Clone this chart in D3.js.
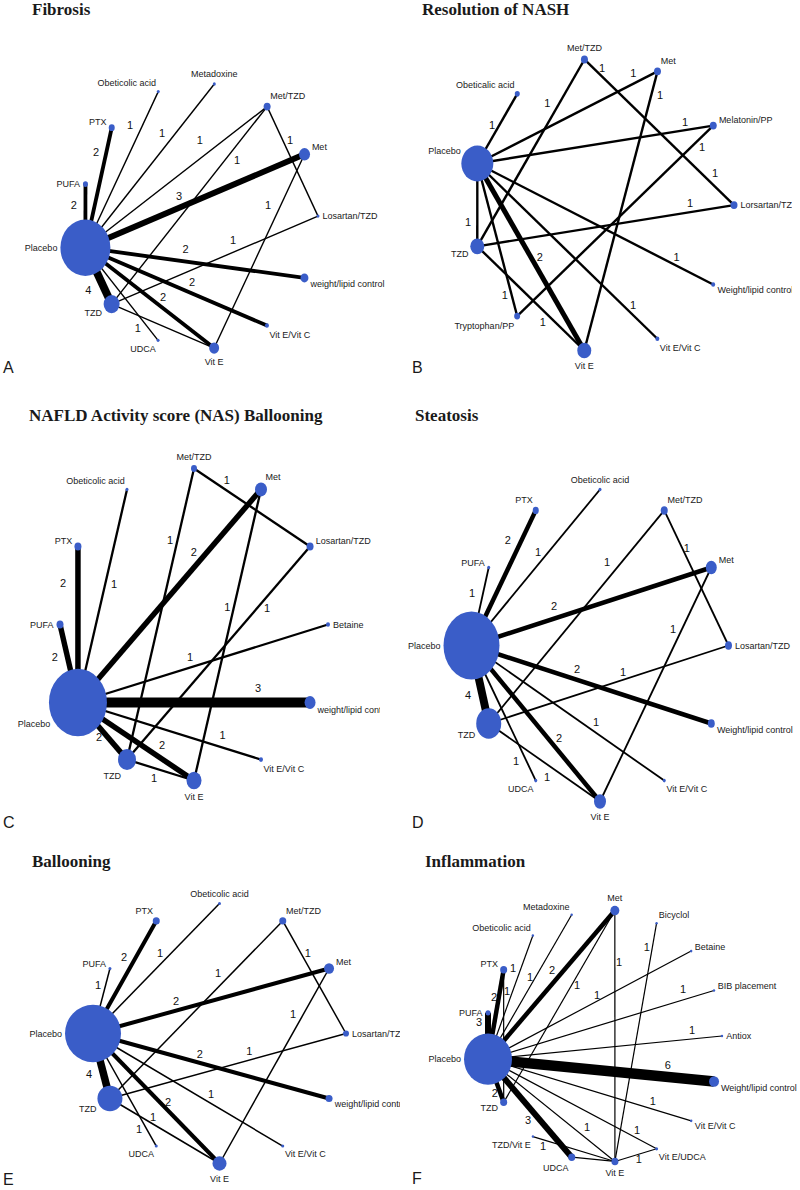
<!DOCTYPE html>
<html><head><meta charset="utf-8">
<script src="https://cdn.jsdelivr.net/npm/d3@7"></script>
<style>body{margin:0;background:#fff}svg{display:block}</style>
</head><body>
<svg id="chart" width="800" height="1190"></svg>
<script>
// ---------- A: Fibrosis ----------
const fibrosisNodes = ["Placebo","PUFA","PTX","Obeticolic acid","Metadoxine","Met/TZD","Met","Losartan/TZD","weight/lipid control","Vit E/Vit C","Vit E","UDCA","TZD"];
const fibrosisNodeSize = [25,2.5,3,1.5,1.5,3.5,5.5,1.5,4,2,5,1.5,8];
const fibrosisEdges = [
  ["Placebo","PUFA",2],["Placebo","PTX",2],["Placebo","Obeticolic acid",1],["Placebo","Metadoxine",1],
  ["Placebo","Met/TZD",1],["Placebo","Met",3],["Placebo","weight/lipid control",2],["Placebo","Vit E/Vit C",2],
  ["Placebo","Vit E",2],["Placebo","UDCA",1],["Placebo","TZD",4],["TZD","Met/TZD",1],
  ["TZD","Losartan/TZD",1],["TZD","Vit E",1],["Met/TZD","Losartan/TZD",1],["Met","Vit E",1]];

// ---------- B: Resolution of NASH ----------
const nashNodes = ["Placebo","Obeticalic acid","Met/TZD","Met","Melatonin/PP","Lorsartan/TZD","Weight/lipid control","Vit E/Vit C","Vit E","Tryptophan/PP","TZD"];
const nashNodeSize = [16,2.5,3.5,3.5,3.5,3.5,2,2,7,3,7];
const nashEdges = [
  ["Placebo","Obeticalic acid",1],["Placebo","Met",1],["Placebo","Melatonin/PP",1],["Placebo","TZD",1],
  ["Placebo","Tryptophan/PP",1],["Placebo","Vit E",2],["Placebo","Vit E/Vit C",1],["Placebo","Weight/lipid control",1],
  ["TZD","Lorsartan/TZD",1],["TZD","Met/TZD",1],["TZD","Vit E",1],["Met/TZD","Lorsartan/TZD",1],
  ["Met","Vit E",1],["Melatonin/PP","Tryptophan/PP",1]];

// ---------- C: NAS Ballooning ----------
const nasNodes = ["Placebo","PUFA","PTX","Obeticolic acid","Met/TZD","Met","Losartan/TZD","Betaine","weight/lipid control","Vit E/Vit C","Vit E","TZD"];
const nasNodeSize = [29,3.5,3.5,1.5,3,6,3.5,2,5.5,2,7.5,9];
const nasEdges = [
  ["Placebo","PUFA",2],["Placebo","PTX",2],["Placebo","Obeticolic acid",1],["Placebo","Met",2],
  ["Placebo","Betaine",1],["Placebo","weight/lipid control",3],["Placebo","Vit E/Vit C",1],["Placebo","Vit E",2],
  ["Placebo","TZD",2],["Met/TZD","Losartan/TZD",1],["Met/TZD","TZD",1],["Met","Vit E",1],
  ["Losartan/TZD","TZD",1],["TZD","Vit E",1]];

// ---------- D: Steatosis ----------
const steatosisNodes = ["Placebo","PUFA","PTX","Obeticolic acid","Met/TZD","Met","Losartan/TZD","Weight/lipid control","Vit E/Vit C","Vit E","UDCA","TZD"];
const steatosisNodeSize = [28,1.5,3,1.5,3.5,5.5,3.5,3.5,1.5,6,1.5,12.5];
const steatosisEdges = [
  ["Placebo","PUFA",1],["Placebo","PTX",2],["Placebo","Obeticolic acid",1],["Placebo","Met",2],
  ["Placebo","Weight/lipid control",2],["Placebo","Vit E/Vit C",1],["Placebo","Vit E",2],["Placebo","UDCA",1],
  ["Placebo","TZD",4],["TZD","Met/TZD",1],["TZD","Losartan/TZD",1],["TZD","Vit E",1],
  ["Met/TZD","Losartan/TZD",1],["Met","Vit E",1]];

// ---------- E: Ballooning ----------
const balloonNodes = ["Placebo","PUFA","PTX","Obeticolic acid","Met/TZD","Met","Losartan/TZD","weight/lipid control","Vit E/Vit C","Vit E","UDCA","TZD"];
const balloonNodeSize = [28,1.5,3.5,1.5,3.5,5,3,3.5,1.5,7,1.5,12.5];
const balloonEdges = [
  ["Placebo","PUFA",1],["Placebo","PTX",2],["Placebo","Obeticolic acid",1],["Placebo","Met",2],
  ["Placebo","weight/lipid control",2],["Placebo","Vit E/Vit C",1],["Placebo","Vit E",2],["Placebo","UDCA",1],
  ["Placebo","TZD",4],["TZD","Met/TZD",1],["TZD","Losartan/TZD",1],["TZD","Vit E",1],
  ["Met/TZD","Losartan/TZD",1],["Met","Vit E",1]];

// ---------- F: Inflammation ----------
const inflamNodes = ["Placebo","PUFA","PTX","Obeticolic acid","Metadoxine","Met","Bicyclol","Betaine","BIB placement","Antiox","Weight/lipid control","Vit E/Vit C","Vit E/UDCA","Vit E","UDCA","TZD/Vit E","TZD"];
const inflamNodeSize = [24,2.5,3.5,1.2,1.2,4.5,1.2,1.2,1.2,1.2,5,1.2,1.5,3.5,3.5,1.2,3.5];
const inflamEdges = [
  ["Placebo","PUFA",3],["Placebo","PTX",2],["Placebo","Obeticolic acid",1],["Placebo","Metadoxine",1],
  ["Placebo","Met",2],["Placebo","Betaine",1],["Placebo","BIB placement",1],["Placebo","Antiox",1],
  ["Placebo","Weight/lipid control",6],["Placebo","Vit E/Vit C",1],["Placebo","Vit E/UDCA",1],["Placebo","Vit E",1],
  ["Placebo","UDCA",3],["Placebo","TZD",2],["PTX","TZD",1],["Met","TZD",1],
  ["Met","Vit E",1],["Bicyclol","Vit E",1],["TZD/Vit E","Vit E",1],["UDCA","Vit E",1],["Vit E","Vit E/UDCA",1]];

// ---------- layout: where each edge's count label sits (fraction along edge, side offset) ----------
const fibrosisLabelAt = [[[.67,-11.5]],[[.78,-10.2]],[[.755,-11.5]],[[.66,-10.8]],[[.68,-14.9]],[[.447,-10.9]],[[.45,-12.5]],[[.565,-10.5]],[[.56,-8.9]],[[.81,8.1]],[[.64,15.4]],[[.76,9.3]],[[.61,-11.4]],[],[[.33,-6.7]],[[.287,11.7]]];
const nashLabelAt = [[[.51,-6.4]],[[.89,-9.6]],[[.886,-7.9]],[[.705,9.3]],[[.85,6.5]],[[.52,-7.9]],[[.837,-7.1]],[[.83,-7.9]],[[.834,-9]],[[.74,-10.8]],[[.668,8.4]],[[.089,-6.2],[.828,-9.7]],[[.077,-8.5]],[[.084,-7.6]]];
const nasLabelAt = [[[.62,-12.2]],[[.766,-15]],[[.565,8.5]],[[.675,-10]],[[.46,-10.1]],[[.776,-14.5]],[[.77,-12.2]],[[.668,-11.6]],[[.53,6.5]],[[.24,-8.9]],[[.251,7.3]],[[.41,6.5]],[[.266,-7.4]],[[.445,9.5]]];
const steatosisLabelAt = [[[.64,-10.8]],[[.74,-12.3]],[[.566,-8.1]],[[.36,-12]],[[.427,-10.3]],[[.62,-8.8]],[[.63,-8.7]],[[.825,9.4]],[[.6,14.1]],[[.724,-11.4]],[[.57,-7.4]],[[.577,10.4]],[[.29,-4.4]],[[.278,8.2]]];
const balloonLabelAt = [[[.72,-7.4]],[[.634,-10.4]],[[.576,-8.1]],[[.362,-9.3]],[[.443,-8.6]],[[.6,-8.2]],[[.559,-6]],[[.82,6.7]],[[.57,14]],[[.667,-10.1]],[[.6,-8.9]],[[.365,-6.1]],[[.31,-6.3]],[[.256,9.2]]];
const inflamLabelAt = [[[.8,-9]],[[.685,-4.8]],[[.716,-7.6]],[[.552,-4.9]],[[.56,-9.2]],[[.549,-5.5]],[[.876,-10.4]],[[.876,-8.9]],[[.79,-11.9]],[[.8,-7.9]],[[.863,-7.4]],[[.734,-9.3]],[[.56,9.1]],[[.74,5]],[[.16,-3.3]],[[.376,-4.6]],[[.205,-4.1]],[[.104,5.4]],[[.145,6.1]],[],[[.54,5]]];

const panels = [
  {title:"Fibrosis", letter:"A", nodes:fibrosisNodes, size:fibrosisNodeSize, edges:fibrosisEdges, labelAt:fibrosisLabelAt,
   cx:200, cy:216, rx:118, ry:133, phi0:166.2, wDom:[1,2,4], wRng:[1.4,3.8,8], titleXY:[32,15], letterXY:[3,373], clip:[0,0,400,395]},
  {title:"Resolution of NASH", letter:"B", nodes:nashNodes, size:nashNodeSize, edges:nashEdges, labelAt:nashLabelAt,
   cx:603, cy:205, rx:131, ry:147, phi0:196.4, wDom:[1,2], wRng:[2.4,5], titleXY:[422,15], letterXY:[412,373], clip:[400,0,392,395]},
  {title:"NAFLD Activity score (NAS) Ballooning", letter:"C", nodes:nasNodes, size:nasNodeSize, edges:nasEdges, labelAt:nasLabelAt,
   cx:194, cy:624.5, rx:134, ry:156, phi0:150, wDom:[1,2,3], wRng:[2.3,5.5,10], titleXY:[29,421], letterXY:[3,828], clip:[0,395,380,445]},
  {title:"Steatosis", letter:"D", nodes:steatosisNodes, size:steatosisNodeSize, edges:steatosisEdges, labelAt:steatosisLabelAt,
   cx:600, cy:645.5, rx:128.5, ry:156, phi0:180, wDom:[1,2,4], wRng:[1.8,4.5,8], titleXY:[415,421], letterXY:[412,828], clip:[400,395,400,445]},
  {title:"Ballooning", letter:"E", nodes:balloonNodes, size:balloonNodeSize, edges:balloonEdges, labelAt:balloonLabelAt,
   cx:219.5, cy:1033.5, rx:126.5, ry:130, phi0:180, wDom:[1,2,4], wRng:[1.5,4,7.5], titleXY:[32,867], letterXY:[3,1185], clip:[0,840,400,350]},
  {title:"Inflammation", letter:"F", nodes:inflamNodes, size:inflamNodeSize, edges:inflamEdges, labelAt:inflamLabelAt,
   cx:604, cy:1036, rx:118, ry:126, phi0:169.4, wDom:[1,2,6], wRng:[1.2,4.5,10.5], titleXY:[425,867], letterXY:[412,1184], clip:[400,840,400,350]}
];

const NODE_FILL = "#3a5dc8";
const svg = d3.select("#chart");
const defs = svg.append("defs");
const rad = d => d * Math.PI / 180;

panels.forEach((p, pi) => {
  const n = p.nodes.length;
  const angle = d3.scaleLinear().domain([0, n]).range([p.phi0, p.phi0 + 360]);
  const aspect = p.ry / p.rx;
  const rScale = d3.scaleLinear().domain([0, 30]).range([0, 30]);
  const wScale = d3.scaleLinear().domain(p.wDom).range(p.wRng);

  const pos = {};
  p.nodes.forEach((name, i) => {
    const a = angle(i);
    pos[name] = {name, a, x: p.cx + p.rx * Math.cos(rad(a)), y: p.cy + p.ry * Math.sin(rad(a)),
                 r: rScale(p.size[i])};
  });

  defs.append("clipPath").attr("id", "clip" + pi).append("rect")
    .attr("x", p.clip[0]).attr("y", p.clip[1]).attr("width", p.clip[2]).attr("height", p.clip[3]);
  const g = svg.append("g").attr("clip-path", `url(#clip${pi})`);

  g.append("text").attr("x", p.titleXY[0]).attr("y", p.titleXY[1])
    .attr("font-family", "'Liberation Serif','Times New Roman',serif").attr("font-weight", "bold")
    .attr("font-size", 17).attr("fill", "#1a1a1a").text(p.title);
  g.append("text").attr("x", p.letterXY[0]).attr("y", p.letterXY[1])
    .attr("font-family", "'Liberation Sans',Arial,sans-serif").attr("font-size", 16).attr("fill", "#1a1a1a").text(p.letter);

  // edges
  g.append("g").selectAll("line").data(p.edges).join("line")
    .attr("x1", d => pos[d[0]].x).attr("y1", d => pos[d[0]].y)
    .attr("x2", d => pos[d[1]].x).attr("y2", d => pos[d[1]].y)
    .attr("stroke", "#000").attr("stroke-width", d => wScale(d[2]));

  // edge labels
  const elab = [];
  p.edges.forEach((e, i) => {
    const S = pos[e[0]], T = pos[e[1]];
    const vx = T.x - S.x, vy = T.y - S.y, L = Math.hypot(vx, vy);
    (p.labelAt[i] || []).forEach(([t, off]) => {
      elab.push({x: S.x + t * vx + off * (-vy / L), y: S.y + t * vy + off * (vx / L), k: e[2]});
    });
  });
  g.append("g").selectAll("text").data(elab).join("text")
    .attr("x", d => d.x).attr("y", d => d.y).attr("dy", "0.35em")
    .attr("text-anchor", "middle").attr("font-family", "'Liberation Sans',Arial,sans-serif")
    .attr("font-size", 11).attr("fill", "#111").text(d => d.k);

  // nodes
  const nodeData = p.nodes.map(nm => pos[nm]);
  g.append("g").selectAll("ellipse").data(nodeData).join("ellipse")
    .attr("cx", d => d.x).attr("cy", d => d.y)
    .attr("rx", d => d.r).attr("ry", d => d.r * aspect)
    .attr("fill", NODE_FILL);

  // node labels placed at clock positions
  g.append("g").selectAll("text").data(nodeData).join("text")
    .each(function(d) {
      const a = (Math.round(d.a / 30) * 30) % 360;
      const c = Math.cos(rad(a)), s = Math.sin(rad(a));
      const anchor = c > 0.1 ? "start" : (c < -0.1 ? "end" : "middle");
      d3.select(this)
        .attr("x", d.x + c * (d.r + 3))
        .attr("y", d.y + s * (d.r * aspect + 8))
        .attr("text-anchor", anchor);
    })
    .attr("dy", "0.35em").attr("font-family", "'Liberation Sans',Arial,sans-serif")
    .attr("font-size", 9).attr("fill", "#1a1a1a").text(d => d.name);
});
</script>
</body></html>
